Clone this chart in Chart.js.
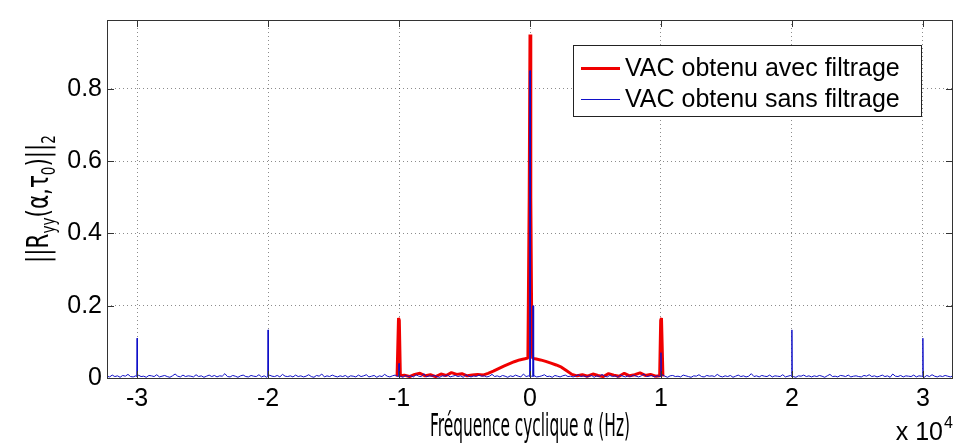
<!DOCTYPE html>
<html>
<head>
<meta charset="utf-8">
<script src="https://cdn.jsdelivr.net/npm/chart.js@4.4.1/dist/chart.umd.min.js"></script>
<style>
  html, body { margin: 0; padding: 0; background: #fff; }
  #wrap { width: 957px; height: 444px; }
</style>
</head>
<body>
<div id="wrap"><canvas id="chart" width="957" height="444"></canvas></div>
<script>
// axis values (x in Hz, tick labels shown in units of 1e4)
const xTicks = [-30000, -20000, -10000, 0, 10000, 20000, 30000];
const yTicks = [0, 0.2, 0.4, 0.6, 0.8];
const xRange = [-32300, 32300];
const yRange = [0, 0.99];

const seriesNames = ['VAC obtenu avec filtrage', 'VAC obtenu sans filtrage'];

// red curve : avec filtrage
const redX = [-10150, -10040, -9980, -9900, -9600, -9200, -8800, -8400, -8000, -7600,
  -7200, -6800, -6400, -6000, -5600, -5200, -4800, -4400, -4000, -3600,
  -3200, -2800, -2400, -2000, -1600, -1200, -800, -400, -160, -60,
  0, 60, 120, 200, 400, 800, 1200, 1600, 2000, 2400,
  2800, 3200, 3600, 4000, 4400, 4800, 5200, 5600, 6000, 6400,
  6800, 7200, 7600, 8000, 8400, 8800, 9200, 9600, 9900, 9980,
  10040, 10150];
const redY = [0.004, 0.166, 0.160, 0.006, 0.008, 0.004, 0.010, 0.013, 0.006, 0.009,
  0.004, 0.011, 0.007, 0.015, 0.010, 0.012, 0.006, 0.008, 0.010, 0.008,
  0.013, 0.019, 0.026, 0.033, 0.039, 0.045, 0.050, 0.053, 0.055, 0.50,
  0.95, 0.50, 0.20, 0.055, 0.053, 0.050, 0.046, 0.041, 0.036, 0.030,
  0.020, 0.010, 0.006, 0.009, 0.005, 0.011, 0.007, 0.004, 0.012, 0.008,
  0.005, 0.013, 0.006, 0.009, 0.014, 0.007, 0.010, 0.005, 0.006, 0.160,
  0.166, 0.004];

// blue curve : sans filtrage, noise floor every 200 Hz from -32300 Hz, plus narrow lines
const blueStart = -32300;
const blueStep = 200;
const blueNoise = [
  0.005, 0.003, 0.008, 0.004, 0.006, 0.002, 0.007, 0.005, 0.010, 0.004, 0.003, 0.006, 0.008, 0.004, 0.005, 0.002, 0.007, 0.006,
  0.004, 0.009, 0.003, 0.005, 0.007, 0.004, 0.002, 0.006, 0.011, 0.005, 0.003, 0.008, 0.004, 0.006, 0.005, 0.003, 0.009, 0.004,
  0.006, 0.002, 0.005, 0.008, 0.004, 0.007, 0.003, 0.006, 0.005, 0.012, 0.004, 0.003, 0.007, 0.005, 0.002, 0.006, 0.008, 0.004,
  0.003, 0.007, 0.005, 0.004, 0.009, 0.003, 0.006, 0.002, 0.008, 0.005, 0.004, 0.007, 0.003, 0.010, 0.005, 0.004, 0.006, 0.003,
  0.008, 0.004, 0.006, 0.003, 0.005, 0.009, 0.004, 0.002, 0.007, 0.005, 0.011, 0.003, 0.006, 0.004, 0.008, 0.005, 0.003, 0.006,
  0.004, 0.007, 0.002, 0.006, 0.005, 0.003, 0.008, 0.004, 0.006, 0.009, 0.003, 0.005, 0.007, 0.002, 0.006, 0.004, 0.010, 0.005,
  0.003, 0.006, 0.008, 0.004, 0.005, 0.002, 0.007, 0.004, 0.006, 0.003, 0.009, 0.005, 0.004, 0.012, 0.003, 0.006, 0.005, 0.007,
  0.004, 0.002, 0.006, 0.005, 0.008, 0.003, 0.005, 0.007, 0.004, 0.006, 0.002, 0.009, 0.005, 0.003, 0.006, 0.004, 0.008, 0.005,
  0.006, 0.003, 0.005, 0.010, 0.004, 0.006, 0.003, 0.007, 0.005, 0.002, 0.006, 0.004, 0.008, 0.005, 0.003, 0.011, 0.004, 0.006,
  0.005, 0.007, 0.003, 0.004, 0.006, 0.009, 0.004, 0.005, 0.002, 0.007, 0.005, 0.003, 0.006, 0.008, 0.004, 0.005, 0.003, 0.006,
  0.009, 0.004, 0.006, 0.003, 0.005, 0.007, 0.002, 0.006, 0.004, 0.010, 0.005, 0.003, 0.007, 0.004, 0.006, 0.002, 0.008, 0.005,
  0.003, 0.006, 0.004, 0.008, 0.005, 0.003, 0.006, 0.011, 0.004, 0.005, 0.007, 0.003, 0.006, 0.004, 0.009, 0.005, 0.002, 0.006,
  0.007, 0.004, 0.005, 0.003, 0.008, 0.006, 0.004, 0.002, 0.006, 0.005, 0.009, 0.004, 0.003, 0.007, 0.005, 0.006, 0.004, 0.010,
  0.005, 0.003, 0.006, 0.004, 0.007, 0.002, 0.005, 0.008, 0.004, 0.006, 0.003, 0.005, 0.012, 0.004, 0.006, 0.003, 0.007, 0.005,
  0.004, 0.008, 0.003, 0.006, 0.005, 0.004, 0.009, 0.003, 0.005, 0.007, 0.004, 0.002, 0.006, 0.005, 0.008, 0.004, 0.006, 0.003,
  0.006, 0.004, 0.007, 0.005, 0.002, 0.006, 0.010, 0.004, 0.005, 0.003, 0.007, 0.006, 0.004, 0.008, 0.003, 0.005, 0.006, 0.004,
  0.003, 0.007, 0.005, 0.009, 0.004, 0.006, 0.003, 0.005, 0.008, 0.004, 0.006, 0.002, 0.011, 0.005, 0.004, 0.007, 0.003, 0.006,
  0.005, 0.004, 0.008, 0.003, 0.006, 0.005, 0.002, 0.007, 0.004, 0.009, 0.005, 0.003, 0.006, 0.004, 0.007, 0.005, 0.003, 0.006];
const blueSpikeX = [-30000, -20000, -10000, 0, 230, 10000, 20000, 30000];
const blueSpikeY = [0.11, 0.133, 0.04, 0.85, 0.20, 0.07, 0.133, 0.11];
const blueFloor = 0.004;

const redPts = redX.map((x, i) => ({ x: x, y: redY[i] }));
let bluePts = blueNoise.map((y, i) => ({ x: blueStart + i * blueStep, y: y }));
blueSpikeX.forEach((x, i) => {
  bluePts.push({ x: x - 25, y: blueFloor }, { x: x, y: blueSpikeY[i] }, { x: x + 25, y: blueFloor });
});
bluePts.sort((a, b) => a.x - b.x);

const sansFont = '"Liberation Sans", Arial, sans-serif';
const narrowFont = '"DejaVu Sans", sans-serif';
const gridColor = 'rgba(0,0,0,0.45)';
const red = '#f00000';
const blue = '#1010c8';

// draw text squeezed horizontally to a given width
function narrowText(ctx, parts, cx, baseline, target) {
  let total = 0;
  parts.forEach(p => { ctx.font = p.size + 'px ' + narrowFont; total += ctx.measureText(p.t).width; });
  const sx = target / total;
  ctx.save();
  ctx.translate(cx - target / 2, baseline);
  ctx.scale(sx, 1);
  let x = 0;
  parts.forEach(p => {
    ctx.font = p.size + 'px ' + narrowFont;
    ctx.fillText(p.t, x, p.dy || 0);
    x += ctx.measureText(p.t).width;
  });
  ctx.restore();
}

const decor = {
  id: 'decor',
  afterDatasetsDraw(chart) {
    const { ctx, chartArea: a, scales } = chart;
    ctx.save();
    // box
    ctx.strokeStyle = '#333';
    ctx.lineWidth = 1;
    ctx.strokeRect(a.left + 0.5, a.top + 0.5, a.right - a.left - 1, a.bottom - a.top);
    // inner tick marks
    ctx.beginPath();
    xTicks.forEach(v => {
      const px = Math.round(scales.x.getPixelForValue(v)) + 0.5;
      ctx.moveTo(px, a.bottom); ctx.lineTo(px, a.bottom - 7);
      ctx.moveTo(px, a.top); ctx.lineTo(px, a.top + 7);
    });
    yTicks.forEach(v => {
      const py = Math.round(scales.y.getPixelForValue(v)) + 0.5;
      ctx.moveTo(a.left, py); ctx.lineTo(a.left + 7, py);
      ctx.moveTo(a.right, py); ctx.lineTo(a.right - 7, py);
    });
    ctx.stroke();

    // legend
    const lx = a.right - 380, ly = a.top + 25, lw = 348, lh = 71;
    ctx.fillStyle = '#fff';
    ctx.fillRect(lx, ly, lw, lh);
    ctx.strokeStyle = '#222';
    ctx.strokeRect(lx + 0.5, ly + 0.5, lw, lh);
    ctx.font = '25px ' + sansFont;
    ctx.textBaseline = 'middle';
    ctx.fillStyle = '#000';
    [[red, 3], [blue, 1]].forEach((s, i) => {
      const yy = ly + 23 + i * 31;
      ctx.strokeStyle = s[0];
      ctx.lineWidth = s[1];
      ctx.beginPath();
      ctx.moveTo(lx + 8, yy + 0.5); ctx.lineTo(lx + 47, yy + 0.5);
      ctx.stroke();
      ctx.fillText(seriesNames[i], lx + 52, yy + 1);
    });

    // axis titles
    ctx.textBaseline = 'alphabetic';
    ctx.fillStyle = '#000';
    narrowText(ctx, [{ t: 'Fréquence cyclique α (Hz)', size: 32 }], (a.left + a.right) / 2, a.bottom + 58, 200);

    ctx.save();
    ctx.translate(48, (a.top + a.bottom) / 2);
    ctx.rotate(-Math.PI / 2);
    narrowText(ctx, [
      { t: '||R', size: 30 }, { t: 'yy', size: 19, dy: 7 }, { t: '(α,τ', size: 30 },
      { t: '0', size: 19, dy: 7 }, { t: ')||', size: 30 }, { t: '2', size: 19, dy: 7 }
    ], 0, 0, 128);
    ctx.restore();

    // exponent
    ctx.font = '25px ' + sansFont;
    ctx.textAlign = 'right';
    ctx.fillText('x 10', a.right - 10, a.bottom + 62);
    ctx.font = '16px ' + sansFont;
    ctx.textAlign = 'left';
    ctx.fillText('4', a.right - 9, a.bottom + 50);
    ctx.restore();
  }
};

new Chart(document.getElementById('chart'), {
  type: 'line',
  data: {
    datasets: [
      { label: seriesNames[0], data: redPts, borderColor: red, borderWidth: 3, pointRadius: 0,
        borderJoinStyle: 'bevel', order: 2 },
      { label: seriesNames[1], data: bluePts, borderColor: blue, borderWidth: 1, pointRadius: 0, order: 1 }
    ]
  },
  options: {
    responsive: false,
    animation: false,
    devicePixelRatio: 1,
    layout: { padding: { top: 14, right: 4, left: 0, bottom: 0 } },
    plugins: { legend: { display: false }, tooltip: { enabled: false } },
    scales: {
      x: {
        type: 'linear', min: xRange[0], max: xRange[1],
        afterBuildTicks: s => { s.ticks = xTicks.map(v => ({ value: v })); },
        afterFit: s => { s.height = 66; },
        ticks: { callback: v => String(v / 1e4), font: { family: sansFont, size: 25 }, color: '#000',
          padding: 6, maxRotation: 0, autoSkip: false },
        grid: { color: gridColor, drawTicks: false },
        border: { display: false, dash: [1, 3] }
      },
      y: {
        min: yRange[0], max: yRange[1],
        afterBuildTicks: s => { s.ticks = yTicks.map(v => ({ value: v })); },
        afterFit: s => { s.width = 107; },
        ticks: { callback: v => v === 0 ? '0' : v.toFixed(1), font: { family: sansFont, size: 25 }, color: '#000',
          padding: 5 },
        grid: { color: gridColor, drawTicks: false },
        border: { display: false, dash: [1, 3] }
      }
    }
  },
  plugins: [decor]
});
</script>
</body>
</html>
